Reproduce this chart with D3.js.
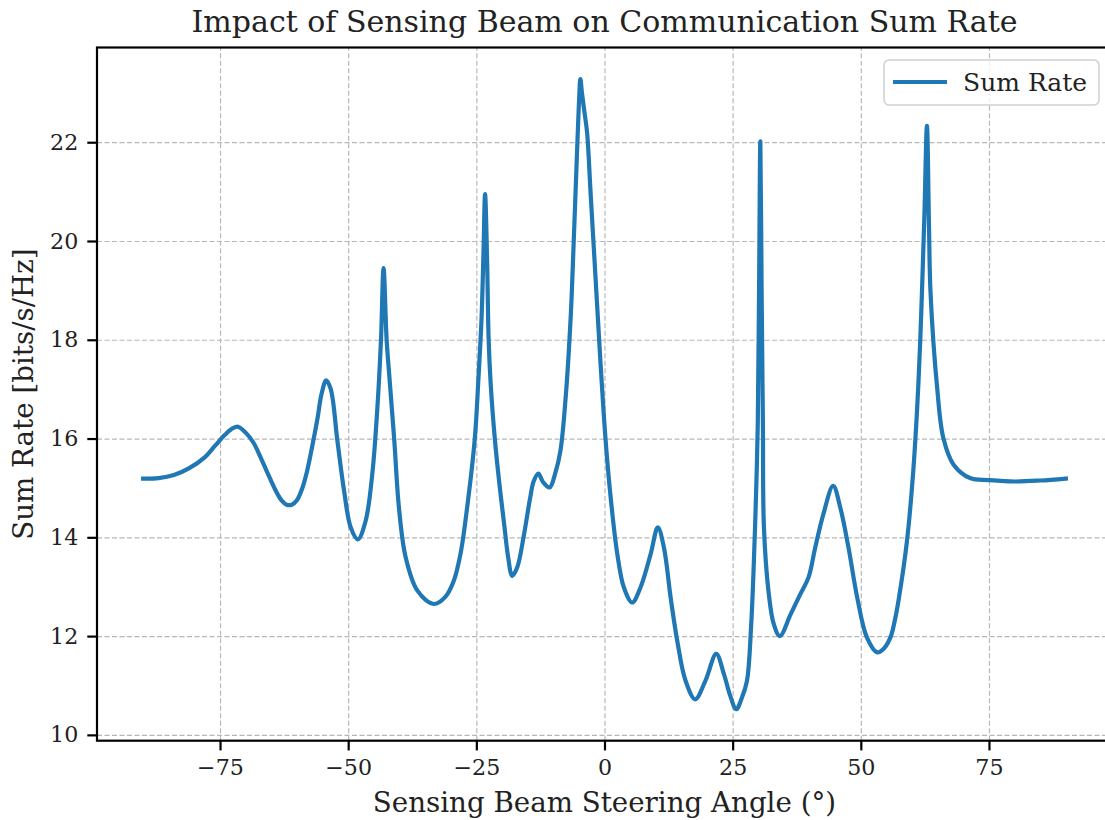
<!DOCTYPE html>
<html>
<head>
<meta charset="utf-8">
<script src="https://cdn.jsdelivr.net/npm/d3@7"></script>
<style>
  body { margin: 0; background: #fff; }
  text { font-family: "DejaVu Serif", serif; fill: #222; }
</style>
</head>
<body>
<script>
// steering angle (deg) and sum rate (bits/s/Hz)
const angles = [
  -90, -87, -84, -81, -78, -76, -74, -72.5, -71.5, -70, -68.5, -67, -65.5, -64, -63, -62, -61, -60, -59, -58,
  -57, -56, -55.2, -54.3, -53.4, -52.1, -50.8, -49.5, -48.1, -46.6, -45.3, -44.3, -43.6, -43.1, -42.5, -42, -41,
  -40.1, -38.8, -36.5, -33.3, -31, -29.4, -28.1, -26.8, -25.3, -24.6, -24, -23.6, -23.3, -22.9, -22.6, -22.2,
  -21.4, -20.5, -19.5, -18.8, -18, -17, -15.7, -14.5, -13.8, -12.9, -12, -10.7, -9.6, -8.6, -7.6, -6.6, -6,
  -5.3, -5, -4.7, -4.4, -3.9, -3.4, -2.7, -1.75, -0.8, 0.2, 1.2, 2.5, 3.8, 5.4, 7, 9, 10.4, 11.6, 12.9, 14.2,
  15.8, 17.7, 19.7, 21.8, 23.3, 24.5, 25.7, 26.8, 27.8, 28.6, 29.1, 29.6, 29.9, 30.15, 30.4, 30.65, 30.9, 31.1,
  32, 33, 34.2, 36.3, 38.2, 39.8, 41.1, 42.7, 44.6, 46, 47.6, 49.3, 51.2, 53.2, 54.5, 55.8, 56.6, 57.4, 59,
  60.2, 61, 61.6, 62, 62.4, 62.9, 63.3, 63.6, 64.9, 66.1, 68.1, 71.3, 75, 80, 85, 90
];
const sumRate = [
  15.19, 15.2, 15.26, 15.4, 15.62, 15.85, 16.08, 16.21, 16.24, 16.12, 15.92, 15.6, 15.25, 14.92, 14.75, 14.66, 14.66, 14.75, 14.98, 15.35,
  15.85, 16.4, 16.9, 17.18, 17.0, 15.95, 14.94, 14.2, 13.96, 14.33, 15.28, 16.63, 18.0, 19.45, 18.0, 17.3, 15.95,
  14.6, 13.6, 12.92, 12.65, 12.8, 13.12, 13.66, 14.6, 16.0, 17.2, 18.4, 19.8, 20.95, 19.6, 18.0, 17.1,
  16.0, 15.08, 14.2, 13.6, 13.22, 13.4, 14.06, 14.8, 15.14, 15.29, 15.12, 15.01, 15.3, 15.75, 16.8, 18.45, 20.0,
  21.96, 22.75, 23.28, 23.0, 22.6, 22.2, 20.95, 19.26, 17.57, 15.99, 14.81, 13.66, 12.98, 12.68, 12.98, 13.66, 14.2, 13.79, 12.78, 11.9,
  11.1, 10.72, 11.1, 11.64, 11.23, 10.8, 10.52, 10.75, 11.1, 12.2, 13.4, 15.0, 16.3, 19.0, 22.02, 19.0, 16.3, 14.2,
  12.9, 12.25, 12.0, 12.44, 12.85, 13.19, 13.79, 14.47, 15.04, 14.6, 13.79, 12.78, 11.97, 11.67, 11.75, 11.98, 12.3, 12.75, 13.92,
  15.3, 16.63, 18.0, 19.2, 20.5, 22.33, 20.3, 18.96, 17.02, 16.01, 15.47, 15.2, 15.16, 15.13, 15.15, 15.19
];
const xTicks = [-75, -50, -25, 0, 25, 50, 75];
const yTicks = [10, 12, 14, 16, 18, 20, 22];

const data = angles.map((a, i) => ({x: a, y: sumRate[i]}));

const W = 1105, H = 820;
const margin = {top: 47.5, left: 97};
const plotW = 1112 - margin.left;   // right spine falls just outside the picture
const plotH = 740.7 - margin.top;

const svg = d3.select("body").append("svg")
  .attr("width", W)
  .attr("height", H);

// matplotlib-like 5% margins around the data
const xExt = d3.extent(angles), yExt = d3.extent(sumRate);
const xPad = (xExt[1] - xExt[0]) * 0.05, yPad = (yExt[1] - yExt[0]) * 0.05;

const xScale = d3.scaleLinear().domain([xExt[0] - xPad, xExt[1] + xPad]).range([0, plotW]);
const yScale = d3.scaleLinear().domain([yExt[0] - yPad, yExt[1] + yPad]).range([plotH, 0]);

const g = svg.append("g").attr("transform", `translate(${margin.left},${margin.top})`);

// grid
const gridStyle = sel => sel.selectAll("line")
  .attr("stroke", "#b8b8b8")
  .attr("stroke-width", 1.2)
  .attr("stroke-dasharray", "5,2.5");

g.append("g")
  .attr("class", "grid")
  .attr("transform", `translate(0,${plotH})`)
  .call(d3.axisBottom(xScale).tickValues(xTicks).tickSize(-plotH).tickFormat(""))
  .call(s => s.select(".domain").remove())
  .call(gridStyle);

g.append("g")
  .attr("class", "grid")
  .call(d3.axisLeft(yScale).tickValues(yTicks).tickSize(-plotW).tickFormat(""))
  .call(s => s.select(".domain").remove())
  .call(gridStyle);

// line
const lineGen = d3.line()
  .x(d => xScale(d.x))
  .y(d => yScale(d.y))
  .curve(d3.curveCatmullRom.alpha(0.5));

g.append("path")
  .datum(data)
  .attr("fill", "none")
  .attr("stroke", "#1f77b4")
  .attr("stroke-width", 4.2)
  .attr("stroke-linejoin", "round")
  .attr("stroke-linecap", "square")
  .attr("d", lineGen);

// spines
g.append("rect")
  .attr("width", plotW)
  .attr("height", plotH)
  .attr("fill", "none")
  .attr("stroke", "#000")
  .attr("stroke-width", 2.2);

// axes
const fmt = d => d < 0 ? "\u2212" + Math.abs(d) : d;
const xAxis = d3.axisBottom(xScale).tickValues(xTicks).tickSize(9.7).tickPadding(9).tickFormat(fmt);
const yAxis = d3.axisLeft(yScale).tickValues(yTicks).tickSize(9.7).tickPadding(9).tickFormat(fmt);

const axStyle = s => {
  s.select(".domain").remove();
  s.selectAll(".tick line").attr("stroke", "#000").attr("stroke-width", 2.2);
  s.selectAll(".tick text")
    .style("font-family", "'DejaVu Serif', serif")
    .style("font-size", "22.2px")
    .attr("fill", "#222");
};

g.append("g").attr("transform", `translate(0,${plotH})`).call(xAxis).call(axStyle);
g.append("g").call(yAxis).call(axStyle);

// title and labels
svg.append("text")
  .attr("x", margin.left + plotW / 2)
  .attr("y", 32)
  .attr("text-anchor", "middle")
  .style("font-size", "30px")
  .text("Impact of Sensing Beam on Communication Sum Rate");

svg.append("text")
  .attr("x", margin.left + plotW / 2)
  .attr("y", 812)
  .attr("text-anchor", "middle")
  .style("font-size", "27.7px")
  .text("Sensing Beam Steering Angle (°)");

svg.append("text")
  .attr("transform", `translate(33,${margin.top + plotH / 2}) rotate(-90)`)
  .attr("text-anchor", "middle")
  .style("font-size", "27.7px")
  .text("Sum Rate [bits/s/Hz]");

// legend
const legend = svg.append("g").attr("transform", "translate(884,60)");
legend.append("rect")
  .attr("width", 215)
  .attr("height", 45)
  .attr("rx", 5)
  .attr("fill", "#fff")
  .attr("fill-opacity", 0.8)
  .attr("stroke", "#d0d0d0")
  .attr("stroke-width", 1.5);
legend.append("line")
  .attr("x1", 9).attr("x2", 63)
  .attr("y1", 22).attr("y2", 22)
  .attr("stroke", "#1f77b4")
  .attr("stroke-width", 4.2);
legend.append("text")
  .attr("x", 79)
  .attr("y", 31)
  .style("font-size", "25px")
  .text("Sum Rate");
</script>
</body>
</html>
